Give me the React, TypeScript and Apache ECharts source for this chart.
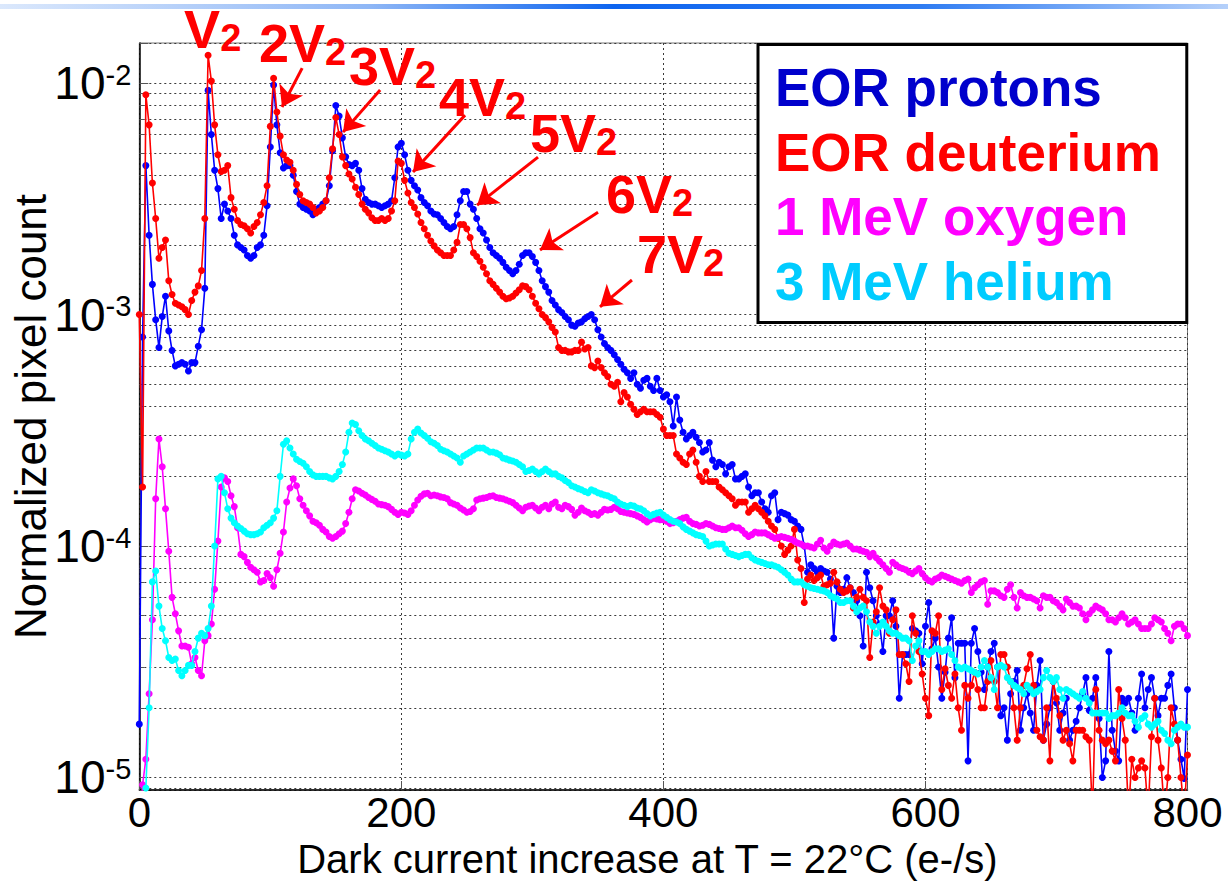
import React, { useEffect, useRef } from 'react';
import * as echarts from 'echarts';

// ---------------- data ----------------
const BIN_WIDTH = 2.5; // e-/s per histogram bin
const X_MIN = 0;
const X_MAX = 800;
const X_TICK_STEP = 200;
const Y_MIN = 8.83e-6;
const Y_MAX = 0.0149;

const SERIES_NAMES = ['EOR protons', 'EOR deuterium', '1 MeV oxygen', '3 MeV helium'];

const EOR_PROTONS = [
  1.7e-5, 8e-4, 4.4e-3, 2.2e-3, 1.35e-3, 9.5e-4, 7.2e-4, 9.8e-4, 1.2e-3, 8.5e-4, 7e-4, 6e-4, 6.1e-4, 6.2e-4, 6.1e-4, 5.7e-4, 6.2e-4, 6.2e-4, 7.3e-4, 8.6e-4,
  1.3e-3, 9.3e-3, 6.0e-3, 4.2e-3, 3.5e-3, 2.6e-3, 3.0e-3, 2.8e-3, 2.6e-3, 2.2e-3, 2.0e-3, 1.95e-3, 1.9e-3, 1.8e-3, 1.75e-3, 1.8e-3, 1.95e-3, 2.0e-3, 2.2e-3, 2.95e-3,
  5.3e-3, 9.8e-3, 6.6e-3, 5.0e-3, 4.3e-3, 4.4e-3, 4.4e-3, 4.0e-3, 3.4e-3, 3.0e-3, 2.9e-3, 2.85e-3, 2.8e-3, 2.7e-3, 2.85e-3, 2.9e-3, 3.0e-3, 3.1e-3, 3.6e-3, 5.1e-3,
  8.0e-3, 7.2e-3, 5.8e-3, 4.8e-3, 4.45e-3, 4.4e-3, 4.5e-3, 4.2e-3, 3.5e-3, 3.15e-3, 3.05e-3, 3.0e-3, 3.0e-3, 2.95e-3, 2.9e-3, 2.95e-3, 3.0e-3, 3.1e-3, 3.9e-3, 5.3e-3,
  5.5e-3, 4.9e-3, 4.2e-3, 3.8e-3, 3.6e-3, 3.45e-3, 3.2e-3, 3.05e-3, 2.95e-3, 2.8e-3, 2.72e-3, 2.7e-3, 2.6e-3, 2.5e-3, 2.4e-3, 2.35e-3, 2.4e-3, 2.7e-3, 3.1e-3, 3.4e-3,
  3.4e-3, 3.0e-3, 2.85e-3, 2.6e-3, 2.35e-3, 2.25e-3, 2.1e-3, 1.95e-3, 1.85e-3, 1.8e-3, 1.75e-3, 1.68e-3, 1.6e-3, 1.55e-3, 1.5e-3, 1.55e-3, 1.65e-3, 1.8e-3, 1.85e-3, 1.85e-3,
  1.78e-3, 1.68e-3, 1.55e-3, 1.4e-3, 1.32e-3, 1.25e-3, 1.15e-3, 1.1e-3, 1.05e-3, 1.02e-3, 9.8e-4, 9.5e-4, 9.0e-4, 8.9e-4, 9.2e-4, 9.3e-4, 9.6e-4, 9.8e-4, 1.0e-3, 9.5e-4,
  8.6e-4, 8.0e-4, 7.5e-4, 7.2e-4, 7.0e-4, 6.7e-4, 6.4e-4, 6.1e-4, 5.8e-4, 5.6e-4, 5.3e-4, 5.6e-4, 5.0e-4, 4.8e-4, 5.2e-4, 5.3e-4, 4.9e-4, 4.7e-4, 5.3e-4, 4.7e-4,
  4.4e-4, 4.5e-4, 4.2e-4, 3.3e-4, 4.4e-4, 3.5e-4, 3.1e-4, 2.9e-4, 3.0e-4, 3.1e-4, 2.95e-4, 2.8e-4, 2.55e-4, 2.6e-4, 2.8e-4, 2.35e-4, 2.2e-4, 2.3e-4, 2.25e-4, 2.05e-4,
  2.2e-4, 2.25e-4, 1.95e-4, 1.95e-4, 2.0e-4, 2.05e-4, 1.8e-4, 1.65e-4, 1.7e-4, 1.7e-4, 1.55e-4, 1.45e-4, 1.4e-4, 1.65e-4, 1.7e-4, 1.3e-4, 1.4e-4, 1.38e-4, 1.36e-4, 1.3e-4,
  1.28e-4, 1.22e-4, 1.18e-4, 1.0e-4, 7.7e-5, 8.3e-5, 8.0e-5, 7.7e-5, 8.0e-5, 7.8e-5, 7.7e-5, 7.2e-5, 4.0e-5, 6.7e-5, 6.3e-5, 6.5e-5, 7.3e-5, 6.6e-5, 6.3e-5, 5.8e-5,
  5.0e-5, 3.7e-5, 7.7e-5, 6.6e-5, 5.8e-5, 5.0e-5, 4.6e-5, 3.5e-5, 5.0e-5, 5.0e-5, 5.8e-5, 4.5e-5, 2.2e-5, 3.4e-5, 3.4e-5, 3.4e-5, 4.4e-5, 4.3e-5, 4.2e-5, 3.1e-5,
  4.5e-5, 5.7e-5, 3.6e-5, 4.0e-5, 3.0e-5, 2.2e-5, 2.85e-5, 4.0e-5, 4.9e-5, 2.7e-5, 3.8e-5, 3.8e-5, 3.8e-5, 1.18e-5, 3.8e-5, 4.4e-5, 3.5e-5, 2.85e-5, 2.4e-5, 3.0e-5,
  3.5e-5, 3.8e-5, 3.0e-5, 1.85e-5, 2.0e-5, 1.45e-5, 2.3e-5, 2.6e-5, 2.9e-5, 1.6e-5, 2.0e-5, 2.3e-5, 1.9e-5, 1.6e-5, 2.5e-5, 3.2e-5, 1.45e-5, 1.7e-5, 2.0e-5, 2.6e-5,
  2.1e-5, 1.6e-5, 1.9e-5, 2.2e-5, 1.45e-5, 1.6e-5, 1.75e-5, 2.0e-5, 2.3e-5, 2.7e-5, 1.95e-5, 2.2e-5, 2.7e-5, 1.8e-5, 1.0e-5, 1.18e-5, 3.5e-5, 1.6e-5, 1.3e-5, 1.18e-5,
  2.2e-5, 2.1e-5, 2.2e-5, 1.9e-5, 1.6e-5, 2.2e-5, 2.8e-5, 2.0e-5, 2.4e-5, 2.7e-5, 2.2e-5, 1.85e-5, 2.2e-5, 2.2e-5, 2.5e-5, 2.8e-5, 2.0e-5, 1.45e-5, 1.2e-5, 9.9e-6,
  2.4e-5,
];

const EOR_DEUTERIUM = [
  1.0e-3, 1.8e-4, 8.9e-3, 6.6e-3, 3.7e-3, 2.6e-3, 1.75e-3, 1.95e-3, 2.1e-3, 1.4e-3, 1.22e-3, 1.12e-3, 1.1e-3, 1.08e-3, 1.05e-3, 1.0e-3, 1.15e-3, 1.25e-3, 1.33e-3, 1.55e-3,
  2.6e-3, 1.32e-2, 1.02e-2, 6.6e-3, 4.9e-3, 4.15e-3, 4.2e-3, 4.4e-3, 3.2e-3, 2.85e-3, 2.55e-3, 2.45e-3, 2.42e-3, 2.35e-3, 2.25e-3, 2.4e-3, 2.5e-3, 2.7e-3, 3.05e-3, 3.6e-3,
  6.5e-3, 1.05e-2, 7.5e-3, 5.9e-3, 4.9e-3, 4.65e-3, 4.55e-3, 4.2e-3, 3.65e-3, 3.3e-3, 3.1e-3, 3.05e-3, 3.0e-3, 2.9e-3, 2.75e-3, 2.8e-3, 2.9e-3, 3.1e-3, 3.9e-3, 5.2e-3,
  7.1e-3, 6.0e-3, 4.8e-3, 4.4e-3, 4.05e-3, 3.85e-3, 3.55e-3, 3.3e-3, 3.0e-3, 2.85e-3, 2.75e-3, 2.62e-3, 2.55e-3, 2.55e-3, 2.6e-3, 2.55e-3, 2.6e-3, 2.8e-3, 3.1e-3, 4.6e-3,
  4.5e-3, 3.8e-3, 3.35e-3, 3.05e-3, 2.9e-3, 2.72e-3, 2.5e-3, 2.35e-3, 2.2e-3, 2.08e-3, 1.98e-3, 1.9e-3, 1.85e-3, 1.8e-3, 1.8e-3, 1.8e-3, 1.9e-3, 2.05e-3, 2.45e-3, 2.45e-3,
  2.35e-3, 2.15e-3, 1.85e-3, 1.78e-3, 1.7e-3, 1.6e-3, 1.5e-3, 1.4e-3, 1.35e-3, 1.3e-3, 1.25e-3, 1.2e-3, 1.17e-3, 1.18e-3, 1.2e-3, 1.24e-3, 1.28e-3, 1.33e-3, 1.32e-3, 1.28e-3,
  1.2e-3, 1.12e-3, 1.06e-3, 1.0e-3, 9.7e-4, 9.3e-4, 8.8e-4, 8.4e-4, 7.2e-4, 7.0e-4, 7.0e-4, 6.9e-4, 6.9e-4, 7.0e-4, 7.0e-4, 7.6e-4, 7.1e-4, 7.2e-4, 6.0e-4, 5.9e-4,
  6.3e-4, 5.9e-4, 5.6e-4, 5.4e-4, 5.0e-4, 4.9e-4, 5.1e-4, 4.2e-4, 4.6e-4, 4.4e-4, 4.1e-4, 3.9e-4, 3.7e-4, 3.8e-4, 3.9e-4, 3.8e-4, 3.8e-4, 3.8e-4, 3.7e-4, 3.6e-4,
  3.2e-4, 3.0e-4, 3.0e-4, 3.0e-4, 2.5e-4, 2.4e-4, 2.3e-4, 2.25e-4, 2.5e-4, 2.6e-4, 2.3e-4, 2.0e-4, 1.9e-4, 2.1e-4, 1.9e-4, 1.9e-4, 1.9e-4, 1.8e-4, 1.75e-4, 1.7e-4,
  1.65e-4, 1.6e-4, 1.5e-4, 1.55e-4, 1.55e-4, 1.55e-4, 1.4e-4, 1.45e-4, 1.5e-4, 1.45e-4, 1.4e-4, 1.35e-4, 1.28e-4, 1.22e-4, 1.18e-4, 1.08e-4, 1.0e-4, 9.2e-5, 9.6e-5, 1.0e-4,
  1.18e-4, 8.7e-5, 8.0e-5, 5.7e-5, 7.2e-5, 7.5e-5, 7.1e-5, 7.3e-5, 7.5e-5, 6.7e-5, 6.8e-5, 6.9e-5, 7.7e-5, 7.0e-5, 6.5e-5, 6.3e-5, 6.4e-5, 6.6e-5, 5.4e-5, 6.0e-5,
  6.5e-5, 6.0e-5, 5.8e-5, 3.3e-5, 4.7e-5, 5.2e-5, 6.6e-5, 5.5e-5, 5.3e-5, 4.2e-5, 4.8e-5, 5.3e-5, 3.4e-5, 3.4e-5, 3.1e-5, 2.6e-5, 5.0e-5, 4.2e-5, 3.5e-5, 2.8e-5,
  2.2e-5, 1.85e-5, 4.3e-5, 4.2e-5, 5.0e-5, 2.4e-5, 2.95e-5, 2.5e-5, 2.2e-5, 2.8e-5, 2.0e-5, 1.6e-5, 2.5e-5, 2.2e-5, 2.5e-5, 2.85e-5, 2.4e-5, 2.0e-5, 2.0e-5, 2.6e-5,
  3.2e-5, 2.6e-5, 2.0e-5, 3.4e-5, 3.4e-5, 3.0e-5, 2.6e-5, 2.0e-5, 1.45e-5, 2.0e-5, 2.5e-5, 2.95e-5, 3.4e-5, 2.5e-5, 1.6e-5, 1.5e-5, 1.45e-5, 2.0e-5, 1.18e-5, 2.6e-5,
  2.2e-5, 1.85e-5, 1.45e-5, 1.6e-5, 1.4e-5, 1.18e-5, 1.6e-5, 1.6e-5, 1.6e-5, 1.5e-5, 1.45e-5, 7e-6, 2.4e-5, 1.6e-5, 1.45e-5, 1.4e-5, 1.45e-5, 1.3e-5, 1.18e-5, 2.4e-5,
  1.8e-5, 1.45e-5, 7e-6, 1.2e-5, 1.0e-5, 1.1e-5, 1.18e-5, 1.1e-5, 7e-6, 1.5e-5, 2.2e-5, 1.45e-5, 1.1e-5, 7e-6, 1.0e-5, 2.0e-5, 1.7e-5, 1.45e-5, 1.0e-5, 7e-6,
  1.25e-5,
];

const OXYGEN_1MEV = [
  5e-6, 9.3e-6, 1.2e-5, 2.3e-5, 4.8e-5, 1.6e-4, 2.9e-4, 2.2e-4, 1.45e-4, 9.5e-5, 6.0e-5, 5.1e-5, 4.3e-5, 3.7e-5, 3.7e-5, 3.65e-5, 3.1e-5, 3.3e-5, 2.9e-5, 2.75e-5,
  3.9e-5, 4.1e-5, 4.6e-5, 6.5e-5, 1.05e-4, 1.8e-4, 1.97e-4, 1.9e-4, 1.65e-4, 1.48e-4, 1.2e-4, 9.2e-5, 9.0e-5, 8.5e-5, 8.1e-5, 7.9e-5, 7.7e-5, 7.0e-5, 7.1e-5, 7.6e-5,
  7.3e-5, 6.7e-5, 7.9e-5, 9.3e-5, 1.15e-4, 1.55e-4, 1.78e-4, 1.95e-4, 1.82e-4, 1.6e-4, 1.5e-4, 1.42e-4, 1.35e-4, 1.28e-4, 1.26e-4, 1.23e-4, 1.18e-4, 1.15e-4, 1.1e-4, 1.08e-4,
  1.1e-4, 1.13e-4, 1.16e-4, 1.25e-4, 1.4e-4, 1.6e-4, 1.75e-4, 1.73e-4, 1.69e-4, 1.66e-4, 1.62e-4, 1.59e-4, 1.56e-4, 1.52e-4, 1.51e-4, 1.5e-4, 1.48e-4, 1.44e-4, 1.4e-4, 1.37e-4,
  1.4e-4, 1.39e-4, 1.37e-4, 1.42e-4, 1.5e-4, 1.58e-4, 1.64e-4, 1.68e-4, 1.69e-4, 1.65e-4, 1.66e-4, 1.65e-4, 1.63e-4, 1.62e-4, 1.6e-4, 1.54e-4, 1.52e-4, 1.5e-4, 1.46e-4, 1.43e-4,
  1.4e-4, 1.41e-4, 1.45e-4, 1.58e-4, 1.6e-4, 1.61e-4, 1.62e-4, 1.64e-4, 1.65e-4, 1.62e-4, 1.61e-4, 1.6e-4, 1.58e-4, 1.56e-4, 1.54e-4, 1.5e-4, 1.46e-4, 1.42e-4, 1.47e-4, 1.49e-4,
  1.5e-4, 1.46e-4, 1.42e-4, 1.47e-4, 1.5e-4, 1.45e-4, 1.52e-4, 1.55e-4, 1.47e-4, 1.45e-4, 1.5e-4, 1.48e-4, 1.44e-4, 1.36e-4, 1.4e-4, 1.46e-4, 1.42e-4, 1.4e-4, 1.37e-4, 1.38e-4,
  1.36e-4, 1.4e-4, 1.44e-4, 1.43e-4, 1.44e-4, 1.47e-4, 1.45e-4, 1.41e-4, 1.4e-4, 1.39e-4, 1.38e-4, 1.37e-4, 1.35e-4, 1.33e-4, 1.3e-4, 1.27e-4, 1.3e-4, 1.32e-4, 1.31e-4, 1.3e-4,
  1.3e-4, 1.28e-4, 1.25e-4, 1.26e-4, 1.28e-4, 1.3e-4, 1.32e-4, 1.33e-4, 1.28e-4, 1.25e-4, 1.24e-4, 1.22e-4, 1.23e-4, 1.25e-4, 1.24e-4, 1.22e-4, 1.2e-4, 1.19e-4, 1.18e-4, 1.18e-4,
  1.2e-4, 1.22e-4, 1.2e-4, 1.2e-4, 1.17e-4, 1.13e-4, 1.1e-4, 1.12e-4, 1.15e-4, 1.14e-4, 1.14e-4, 1.14e-4, 1.12e-4, 1.1e-4, 1.08e-4, 1.09e-4, 1.1e-4, 1.09e-4, 1.08e-4, 1.07e-4,
  1.05e-4, 1.03e-4, 1.02e-4, 1.0e-4, 1.0e-4, 9.9e-5, 9.8e-5, 1.02e-4, 1.06e-4, 9.8e-5, 9.5e-5, 1.0e-4, 1.04e-4, 1.02e-4, 1.01e-4, 1.02e-4, 1.03e-4, 1.0e-4, 9.7e-5, 9.7e-5,
  9.6e-5, 9.5e-5, 9.4e-5, 9.0e-5, 9.3e-5, 8.9e-5, 8.6e-5, 8.3e-5, 8.0e-5, 7.7e-5, 8.5e-5, 8.3e-5, 8.1e-5, 8.0e-5, 7.9e-5, 7.7e-5, 7.6e-5, 7.8e-5, 8.0e-5, 7.6e-5,
  7.3e-5, 7.1e-5, 7.0e-5, 7.2e-5, 7.3e-5, 7.5e-5, 7.4e-5, 7.3e-5, 7.2e-5, 7.1e-5, 7.0e-5, 6.9e-5, 7.1e-5, 7.2e-5, 6.3e-5, 6.6e-5, 6.8e-5, 7.0e-5, 7.1e-5, 5.6e-5,
  6.4e-5, 6.4e-5, 6.3e-5, 6.1e-5, 6.0e-5, 6.5e-5, 6.8e-5, 6.0e-5, 5.4e-5, 6.3e-5, 6.1e-5, 6.0e-5, 6.0e-5, 5.9e-5, 5.8e-5, 5.4e-5, 6.1e-5, 6.0e-5, 6.0e-5, 5.8e-5,
  5.7e-5, 5.5e-5, 5.3e-5, 5.9e-5, 5.7e-5, 5.5e-5, 5.5e-5, 5.4e-5, 5.1e-5, 4.8e-5, 5.1e-5, 5.3e-5, 5.5e-5, 5.4e-5, 5.3e-5, 5.1e-5, 4.8e-5, 4.8e-5, 4.7e-5, 4.9e-5,
  5.1e-5, 4.9e-5, 4.6e-5, 4.7e-5, 4.8e-5, 4.6e-5, 4.4e-5, 4.4e-5, 4.4e-5, 4.6e-5, 4.9e-5, 4.8e-5, 4.7e-5, 4.4e-5, 4.2e-5, 3.9e-5, 4.5e-5, 4.6e-5, 4.6e-5, 4.4e-5,
  4.1e-5,
];

const HELIUM_3MEV = [
  5e-6, 6e-6, 9e-6, 2.0e-5, 7.0e-5, 7.8e-5, 5.5e-5, 4.4e-5, 3.9e-5, 3.3e-5, 3.2e-5, 3.25e-5, 2.9e-5, 2.75e-5, 2.9e-5, 3.05e-5, 3.05e-5, 3.5e-5, 4.0e-5, 4.2e-5,
  4.1e-5, 4.4e-5, 5.5e-5, 1.0e-4, 1.95e-4, 2.0e-4, 1.7e-4, 1.45e-4, 1.32e-4, 1.26e-4, 1.22e-4, 1.19e-4, 1.16e-4, 1.13e-4, 1.12e-4, 1.12e-4, 1.13e-4, 1.15e-4, 1.2e-4, 1.23e-4,
  1.26e-4, 1.32e-4, 1.42e-4, 2.0e-4, 2.75e-4, 2.85e-4, 2.65e-4, 2.5e-4, 2.37e-4, 2.32e-4, 2.28e-4, 2.2e-4, 2.1e-4, 2.03e-4, 2.0e-4, 2.0e-4, 2.0e-4, 2.0e-4, 1.97e-4, 1.95e-4,
  2.0e-4, 2.1e-4, 2.25e-4, 2.55e-4, 3.1e-4, 3.4e-4, 3.35e-4, 3.15e-4, 3.0e-4, 2.9e-4, 2.85e-4, 2.78e-4, 2.72e-4, 2.65e-4, 2.62e-4, 2.58e-4, 2.55e-4, 2.5e-4, 2.45e-4, 2.5e-4,
  2.47e-4, 2.45e-4, 2.5e-4, 2.9e-4, 3.1e-4, 3.2e-4, 3.08e-4, 3.0e-4, 2.92e-4, 2.82e-4, 2.78e-4, 2.72e-4, 2.62e-4, 2.58e-4, 2.55e-4, 2.5e-4, 2.45e-4, 2.4e-4, 2.3e-4, 2.45e-4,
  2.5e-4, 2.55e-4, 2.6e-4, 2.65e-4, 2.65e-4, 2.65e-4, 2.6e-4, 2.55e-4, 2.55e-4, 2.52e-4, 2.48e-4, 2.4e-4, 2.38e-4, 2.35e-4, 2.33e-4, 2.3e-4, 2.25e-4, 2.2e-4, 2.1e-4, 2.12e-4,
  2.15e-4, 2.1e-4, 2.05e-4, 2.1e-4, 2.15e-4, 2.1e-4, 2.05e-4, 2.05e-4, 2.0e-4, 1.97e-4, 1.92e-4, 1.88e-4, 1.82e-4, 1.8e-4, 1.77e-4, 1.75e-4, 1.72e-4, 1.7e-4, 1.75e-4, 1.73e-4,
  1.7e-4, 1.68e-4, 1.66e-4, 1.65e-4, 1.62e-4, 1.6e-4, 1.55e-4, 1.52e-4, 1.5e-4, 1.48e-4, 1.5e-4, 1.49e-4, 1.46e-4, 1.45e-4, 1.42e-4, 1.38e-4, 1.35e-4, 1.37e-4, 1.39e-4, 1.4e-4,
  1.36e-4, 1.33e-4, 1.3e-4, 1.28e-4, 1.27e-4, 1.25e-4, 1.21e-4, 1.18e-4, 1.16e-4, 1.14e-4, 1.12e-4, 1.11e-4, 1.1e-4, 1.05e-4, 1.0e-4, 1.01e-4, 1.02e-4, 1.02e-4, 1.02e-4, 9.7e-5,
  9.3e-5, 9.2e-5, 9.1e-5, 9.0e-5, 9.1e-5, 9.2e-5, 9.2e-5, 8.9e-5, 8.7e-5, 8.6e-5, 8.5e-5, 8.4e-5, 8.3e-5, 8.3e-5, 8.2e-5, 8.1e-5, 7.9e-5, 7.7e-5, 7.5e-5, 7.2e-5,
  7.0e-5, 7.0e-5, 7.0e-5, 6.8e-5, 6.7e-5, 6.6e-5, 6.55e-5, 6.5e-5, 6.45e-5, 6.4e-5, 6.3e-5, 6.1e-5, 6.0e-5, 5.9e-5, 5.7e-5, 5.7e-5, 5.8e-5, 5.8e-5, 5.5e-5, 5.2e-5,
  5.4e-5, 5.5e-5, 5.2e-5, 4.7e-5, 4.5e-5, 4.2e-5, 4.5e-5, 4.7e-5, 4.5e-5, 4.3e-5, 4.2e-5, 4.2e-5, 4.1e-5, 4.0e-5, 4.0e-5, 3.9e-5, 3.2e-5, 3.7e-5, 3.9e-5, 3.5e-5,
  3.5e-5, 3.4e-5, 3.5e-5, 3.6e-5, 3.6e-5, 3.5e-5, 3.55e-5, 3.6e-5, 3.4e-5, 3.2e-5, 3.0e-5, 2.95e-5, 3.0e-5, 2.95e-5, 2.9e-5, 2.85e-5, 2.8e-5, 3.0e-5, 3.2e-5, 3.0e-5,
  2.7e-5, 2.4e-5, 3.0e-5, 3.05e-5, 3.0e-5, 2.7e-5, 2.6e-5, 2.5e-5, 2.45e-5, 2.4e-5, 2.3e-5, 2.5e-5, 2.4e-5, 2.3e-5, 2.35e-5, 2.4e-5, 2.7e-5, 2.9e-5, 2.7e-5, 2.6e-5,
  2.7e-5, 2.4e-5, 2.2e-5, 2.4e-5, 2.35e-5, 2.3e-5, 2.25e-5, 2.2e-5, 2.35e-5, 2.2e-5, 2.1e-5, 1.9e-5, 1.9e-5, 1.9e-5, 1.9e-5, 1.9e-5, 1.8e-5, 1.85e-5, 1.85e-5, 1.9e-5,
  2.0e-5, 1.9e-5, 1.85e-5, 1.85e-5, 1.75e-5, 1.65e-5, 1.8e-5, 1.85e-5, 1.7e-5, 1.65e-5, 1.7e-5, 1.75e-5, 1.6e-5, 1.55e-5, 1.45e-5, 1.4e-5, 1.6e-5, 1.65e-5, 1.7e-5, 1.65e-5,
  1.65e-5,
];

// Peak annotations: multiples of V2, anchored in data coordinates
const PEAK_LABELS = ['V', '2V', '3V', '4V', '5V', '6V', '7V'];
const PEAK_LABEL_ANCHORS: [number, number][] = [
  [34.2, 0.01711], [91.4, 0.01496], [160.0, 0.01184], [228.7, 0.008698],
  [298.2, 0.006081], [356.1, 0.003316], [379.8, 0.001825],
];
// arrows: [tail, tip] in data coordinates
const PEAK_ARROWS: [[number, number], [number, number]][] = [
  [[124.3, 0.0116], [108.9, 0.00788]],
  [[183.8, 0.00933], [155.5, 0.00614]],
  [[248.6, 0.00727], [208.9, 0.00413]],
  [[304.3, 0.00479], [257.8, 0.00297]],
  [[350.1, 0.00277], [305.8, 0.0019]],
  [[376.0, 0.00141], [351.6, 0.00108]],
];

// ---------------- styles ----------------
const FONT = 'Liberation Sans, Arial, Helvetica, sans-serif';
const LINE_COLORS = ['#0000ff', '#ff0000', '#ff00ff', '#00ffff'];
const LEGEND_COLORS = ['#0000cc', '#ff0000', '#ff00ff', '#00ccff'];
const GRID_LINE = { color: '#3a3a3a', type: [2, 3] as number[], width: 1 };

export default function App() {
  const ref = useRef<HTMLDivElement>(null);

  useEffect(() => {
    if (!ref.current) return;
    const chart = echarts.init(ref.current, null, { renderer: 'svg' });
    const xs = EOR_PROTONS.map((_, i) => X_MIN + i * BIN_WIDTH);
    const allSeries = [EOR_PROTONS, EOR_DEUTERIUM, OXYGEN_1MEV, HELIUM_3MEV];

    const series: any[] = allSeries.map((arr, si) => ({
      name: SERIES_NAMES[si],
      type: 'line',
      data: arr.map((v, i) => [xs[i], v]),
      symbol: 'circle',
      symbolSize: 7,
      showSymbol: true,
      clip: true,
      lineStyle: { color: LINE_COLORS[si], width: 1.6 },
      itemStyle: { color: LINE_COLORS[si] },
      emphasis: { disabled: true },
      silent: true,
      z: 3 + si,
    }));

    // red arrows attached to the deuterium series
    series[1].markLine = {
      silent: true,
      symbol: ['none', 'arrow'],
      symbolSize: 20,
      label: { show: false },
      itemStyle: { color: '#ff0000' },
      lineStyle: { color: '#ff0000', width: 3, type: 'solid' },
      emphasis: { disabled: true },
      data: PEAK_ARROWS.map(([a, b]) => [{ coord: a }, { coord: b }]),
      z: 10,
    };

    const option: any = {
      animation: false,
      backgroundColor: '#ffffff',
      textStyle: { fontFamily: FONT },
      grid: {
        left: 139.3, top: 43, width: 1048.2, height: 747,
        containLabel: false,
        outerBoundsMode: 'none',
        show: true, borderColor: '#777', borderWidth: 1,
      },
      legend: {
        show: true,
        orient: 'vertical',
        left: 758, top: 44.5,
        icon: 'none',
        itemWidth: 0, itemHeight: 0, itemGap: 0,
        padding: [11, 26, 9, 12],
        borderColor: '#000', borderWidth: 3, backgroundColor: '#fff',
        selectedMode: false,
        textStyle: { fontSize: 53, fontWeight: 'bold', fontFamily: FONT, lineHeight: 64.5 },
        data: SERIES_NAMES.map((n, i) => ({ name: n, textStyle: { color: LEGEND_COLORS[i] } })),
        z: 20,
      },
      xAxis: {
        type: 'value', min: X_MIN, max: X_MAX, interval: X_TICK_STEP,
        name: 'Dark current increase at T = 22°C (e-/s)',
        nameLocation: 'middle', nameGap: 48.5,
        nameMoveOverlap: false,
        nameTextStyle: { fontSize: 40, lineHeight: 40, color: '#000', fontFamily: FONT, padding: [0, 32, 0, 0] },
        axisLine: { show: true, onZero: false, lineStyle: { color: '#000', width: 1.5 } },
        axisTick: { show: true, inside: true, length: 9, lineStyle: { color: '#555' } },
        splitLine: { show: true, lineStyle: GRID_LINE },
        axisLabel: { fontSize: 42, lineHeight: 40, color: '#000', margin: 2, fontFamily: FONT },
      },
      yAxis: {
        type: 'log', logBase: 10, min: Y_MIN, max: Y_MAX,
        name: 'Normalized pixel count',
        nameLocation: 'middle', nameRotate: 90, nameGap: 86,
        nameMoveOverlap: false,
        nameTextStyle: { fontSize: 44, lineHeight: 46, color: '#000', fontFamily: FONT },
        axisLine: { show: true, onZero: false, lineStyle: { color: '#000', width: 1.5 } },
        axisTick: { show: true, inside: true, length: 9, lineStyle: { color: '#555' } },
        minorTick: { show: true, splitNumber: 9, length: 5, lineStyle: { color: '#555' } },
        splitLine: { show: true, lineStyle: GRID_LINE },
        minorSplitLine: { show: true, lineStyle: GRID_LINE },
        axisLabel: {
          margin: 8,
          showMinLabel: false, showMaxLabel: false,
          formatter: (v: number) => {
            const l = Math.log10(v);
            const e = Math.round(l);
            if (Math.abs(l - e) > 1e-6) return '';
            return `{b|10}{s|${e}}`;
          },
          rich: {
            b: { fontSize: 46, lineHeight: 46, color: '#000', fontFamily: FONT },
            s: { fontSize: 29, lineHeight: 18, verticalAlign: 'top', color: '#000', fontFamily: FONT },
          },
        },
      },
      series,
    };
    chart.setOption(option);

    const texts = PEAK_LABELS.map((lab, i) => {
      const p = chart.convertToPixel({ gridIndex: 0 }, PEAK_LABEL_ANCHORS[i]) as number[];
      return {
        type: 'text',
        x: p[0], y: p[1], z: 50, silent: true,
        style: {
          text: `{m|${lab}}{s|2}`,
          align: 'left', verticalAlign: 'middle',
          rich: {
            m: { fontSize: 54, fontWeight: 'bold', fontFamily: FONT, fill: '#ff0000', lineHeight: 56 },
            s: { fontSize: 38, fontWeight: 'bold', fontFamily: FONT, fill: '#ff0000', lineHeight: 16, verticalAlign: 'bottom' },
          },
        },
      };
    });

    chart.setOption({
      graphic: [
        {
          type: 'rect', left: 0, top: 4, silent: true, z: 0,
          shape: { width: 1228, height: 5 },
          style: {
            fill: new echarts.graphic.LinearGradient(0, 0, 1, 0, [
              { offset: 0, color: '#dbe8fc' },
              { offset: 0.3, color: '#8fb7f6' },
              { offset: 0.5, color: '#0d64ef' },
              { offset: 0.75, color: '#2f7cf2' },
              { offset: 1, color: '#b5d0fa' },
            ]),
          },
        },
        ...texts,
      ],
    });

    return () => chart.dispose();
  }, []);

  return (
    <div
      ref={ref}
      style={{ position: 'fixed', left: 0, top: 0, width: 1228, height: 883, background: '#fff' }}
    />
  );
}
